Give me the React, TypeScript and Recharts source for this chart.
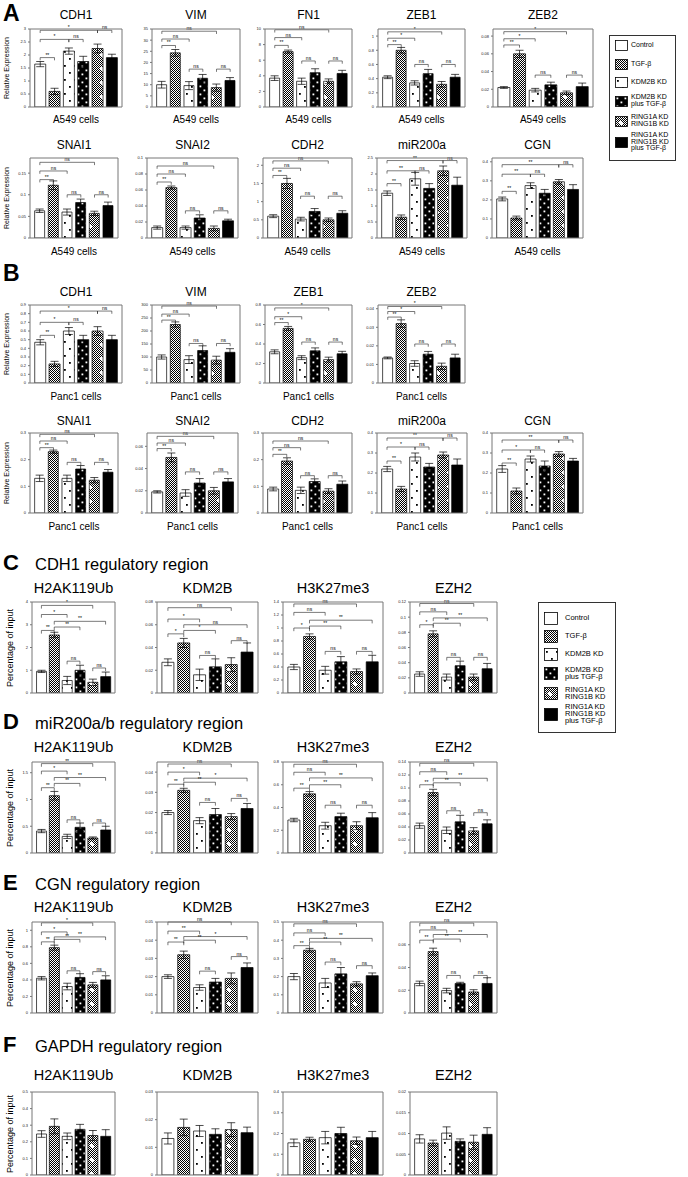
import React from "react";
import { BarChart, Bar, XAxis, YAxis, Cell, ErrorBar, ReferenceLine } from "recharts";

// groups in the order they are plotted
const groups = ["Control", "TGF-β", "KDM2B KD", "KDM2B KD plus TGF-β", "RING1A KD RING1B KD", "RING1A KD RING1B KD plus TGF-β"];
const legendLines = [["Control"], ["TGF-β"], ["KDM2B KD"], ["KDM2B KD", "plus TGF-β"], ["RING1A KD", "RING1B KD"], ["RING1A KD", "RING1B KD", "plus TGF-β"]];
const fills = ["#fff", "url(#pTgf)", "url(#pKd)", "url(#pKdTgf)", "url(#pRing)", "#000"];

type Br = [number, number, number, string]; // from bar, to bar, height, label

// ---- A: A549 cells ----
const a549Cdh1 = [1.65, 0.6, 2.15, 1.75, 2.25, 1.9];
const a549Cdh1Err = [0.1, 0.12, 0.12, 0.2, 0.17, 0.13];
const a549Cdh1Br: Br[] = [[0, 1, 1.9, "**"], [0, 2, 2.6, "*"], [2, 3, 2.6, "ns"], [0, 4, 2.95, "*"], [4, 5, 2.95, "ns"]];
const a549Vim = [10, 24.3, 9.6, 12.9, 8.7, 11.9];
const a549VimErr = [1.5, 1.5, 1.8, 1.7, 1.6, 1.3];
const a549VimBr: Br[] = [[0, 1, 27.6, "**"], [0, 2, 30.5, "ns"], [0, 4, 34, "ns"], [2, 3, 17, "ns"], [4, 5, 17, "ns"]];
const a549Fn1 = [3.7, 7.1, 3.3, 4.4, 3.3, 4.3];
const a549Fn1Err = [0.3, 0.2, 0.4, 0.5, 0.3, 0.4];
const a549Fn1Br: Br[] = [[0, 1, 7.9, "**"], [0, 2, 8.9, "ns"], [0, 4, 9.9, "ns"], [2, 3, 5.9, "ns"], [4, 5, 5.9, "ns"]];
const a549Zeb1 = [0.42, 0.8, 0.34, 0.47, 0.32, 0.42];
const a549Zeb1Err = [0.02, 0.04, 0.03, 0.06, 0.04, 0.04];
const a549Zeb1Br: Br[] = [[0, 1, 0.88, "**"], [0, 2, 0.97, "*"], [0, 4, 1.06, "*"], [2, 3, 0.6, "ns"], [4, 5, 0.6, "ns"]];
const a549Zeb2 = [0.022, 0.06, 0.019, 0.025, 0.016, 0.023];
const a549Zeb2Err = [0.001, 0.004, 0.002, 0.003, 0.002, 0.004];
const a549Zeb2Br: Br[] = [[0, 1, 0.07, "**"], [0, 2, 0.077, "*"], [0, 4, 0.085, "*"], [2, 3, 0.036, "ns"], [4, 5, 0.036, "ns"]];
const a549Snai1 = [0.063, 0.122, 0.06, 0.082, 0.057, 0.075];
const a549Snai1Err = [0.004, 0.01, 0.007, 0.008, 0.005, 0.008];
const a549Snai1Br: Br[] = [[0, 1, 0.135, "**"], [0, 2, 0.155, "ns"], [0, 4, 0.175, "ns"], [2, 3, 0.1, "ns"], [4, 5, 0.1, "ns"]];
const a549Snai2 = [0.013, 0.063, 0.013, 0.025, 0.012, 0.0215];
const a549Snai2Err = [0.002, 0.002, 0.002, 0.004, 0.003, 0.002];
const a549Snai2Br: Br[] = [[0, 1, 0.07, "**"], [0, 2, 0.08, "ns"], [0, 4, 0.09, "ns"], [2, 3, 0.034, "ns"], [4, 5, 0.034, "ns"]];
const a549Cdh2 = [0.6, 1.5, 0.52, 0.73, 0.5, 0.68];
const a549Cdh2Err = [0.04, 0.14, 0.05, 0.08, 0.05, 0.07];
const a549Cdh2Br: Br[] = [[0, 1, 1.72, "**"], [0, 2, 1.92, "ns"], [0, 4, 2.12, "ns"], [2, 3, 1.15, "ns"], [4, 5, 1.15, "ns"]];
const a549Mir = [1.4, 0.65, 1.85, 1.55, 2.1, 1.65];
const a549MirErr = [0.07, 0.07, 0.2, 0.15, 0.15, 0.25];
const a549MirBr: Br[] = [[0, 1, 1.7, "**"], [0, 2, 2.1, "**"], [2, 3, 2.1, "ns"], [0, 4, 2.42, "**"], [4, 5, 2.42, "ns"]];
const a549Cgn = [0.205, 0.105, 0.275, 0.235, 0.295, 0.255];
const a549CgnErr = [0.01, 0.01, 0.015, 0.02, 0.012, 0.025];
const a549CgnBr: Br[] = [[0, 1, 0.245, "**"], [0, 2, 0.335, "**"], [2, 3, 0.335, "ns"], [0, 4, 0.385, "**"], [4, 5, 0.385, "ns"]];

// ---- B: Panc1 cells ----
const panc1Cdh1 = [0.47, 0.22, 0.6, 0.5, 0.6, 0.5];
const panc1Cdh1Err = [0.03, 0.03, 0.04, 0.05, 0.05, 0.05];
const panc1Cdh1Br: Br[] = [[0, 1, 0.55, "**"], [0, 2, 0.7, "*"], [2, 3, 0.7, "ns"], [0, 4, 0.83, "*"], [4, 5, 0.83, "ns"]];
const panc1Vim = [100, 225, 90, 125, 88, 118];
const panc1VimErr = [8, 10, 15, 18, 15, 14];
const panc1VimBr: Br[] = [[0, 1, 242, "**"], [0, 2, 265, "ns"], [0, 4, 296, "ns"], [2, 3, 152, "ns"], [4, 5, 152, "ns"]];
const panc1Zeb1 = [0.32, 0.56, 0.26, 0.33, 0.24, 0.3];
const panc1Zeb1Err = [0.02, 0.02, 0.02, 0.03, 0.025, 0.025];
const panc1Zeb1Br: Br[] = [[0, 1, 0.62, "**"], [0, 2, 0.68, "*"], [0, 4, 0.77, "*"], [2, 3, 0.42, "ns"], [4, 5, 0.42, "ns"]];
const panc1Zeb2 = [0.0135, 0.032, 0.0105, 0.0155, 0.009, 0.0135];
const panc1Zeb2Err = [0.0005, 0.002, 0.0015, 0.0015, 0.0017, 0.002];
const panc1Zeb2Br: Br[] = [[0, 1, 0.0355, "**"], [0, 2, 0.0385, "*"], [0, 4, 0.0412, "*"], [2, 3, 0.021, "ns"], [4, 5, 0.021, "ns"]];
const panc1Snai1 = [0.13, 0.23, 0.13, 0.165, 0.123, 0.153];
const panc1Snai1Err = [0.012, 0.006, 0.012, 0.013, 0.01, 0.01];
const panc1Snai1Br: Br[] = [[0, 1, 0.245, "**"], [0, 2, 0.27, "ns"], [0, 4, 0.295, "ns"], [2, 3, 0.19, "ns"], [4, 5, 0.19, "ns"]];
const panc1Snai2 = [0.019, 0.05, 0.018, 0.027, 0.02, 0.028];
const panc1Snai2Err = [0.001, 0.004, 0.003, 0.004, 0.003, 0.003];
const panc1Snai2Br: Br[] = [[0, 1, 0.058, "**"], [0, 2, 0.063, "ns"], [0, 4, 0.069, "ns"], [2, 3, 0.037, "ns"], [4, 5, 0.037, "ns"]];
const panc1Cdh2 = [0.09, 0.195, 0.085, 0.118, 0.082, 0.108];
const panc1Cdh2Err = [0.007, 0.012, 0.012, 0.01, 0.009, 0.012];
const panc1Cdh2Br: Br[] = [[0, 1, 0.22, "**"], [0, 2, 0.245, "ns"], [0, 4, 0.27, "ns"], [2, 3, 0.14, "ns"], [4, 5, 0.14, "ns"]];
const panc1Mir = [0.22, 0.12, 0.28, 0.23, 0.29, 0.24];
const panc1MirErr = [0.013, 0.013, 0.02, 0.018, 0.015, 0.03];
const panc1MirBr: Br[] = [[0, 1, 0.26, "**"], [0, 2, 0.33, "*"], [2, 3, 0.33, "ns"], [0, 4, 0.375, "**"], [4, 5, 0.375, "ns"]];
const panc1Cgn = [0.22, 0.11, 0.27, 0.235, 0.295, 0.26];
const panc1CgnErr = [0.017, 0.015, 0.015, 0.025, 0.012, 0.013];
const panc1CgnBr: Br[] = [[0, 1, 0.25, "**"], [0, 2, 0.315, "*"], [2, 3, 0.315, "ns"], [0, 4, 0.365, "**"], [4, 5, 0.365, "ns"]];

// ---- C: CDH1 regulatory region ----
const cH2ak = [0.95, 2.55, 0.55, 1.0, 0.47, 0.72];
const cH2akErr = [0.05, 0.12, 0.18, 0.22, 0.14, 0.2];
const cH2akBr: Br[] = [[0, 1, 2.75, "**"], [1, 3, 2.9, "**"], [1, 5, 3.15, "**"], [0, 2, 3.45, "*"], [0, 4, 3.85, "*"], [2, 3, 1.4, "ns"], [4, 5, 1.1, "ns"]];
const cKdm = [0.027, 0.044, 0.016, 0.023, 0.025, 0.036];
const cKdmErr = [0.003, 0.004, 0.005, 0.007, 0.006, 0.008];
const cKdmBr: Br[] = [[0, 1, 0.052, "*"], [1, 3, 0.055, "*"], [1, 5, 0.06, "ns"], [0, 2, 0.065, "*"], [0, 4, 0.075, "ns"], [2, 3, 0.033, "ns"], [4, 5, 0.046, "ns"]];
const cH3 = [0.4, 0.87, 0.35, 0.48, 0.33, 0.48];
const cH3Err = [0.04, 0.04, 0.06, 0.08, 0.04, 0.1];
const cH3Br: Br[] = [[0, 1, 1.0, "*"], [1, 3, 1.03, "**"], [1, 5, 1.12, "**"], [0, 2, 1.24, "ns"], [0, 4, 1.37, "ns"], [2, 3, 0.64, "ns"], [4, 5, 0.64, "ns"]];
const cEzh = [0.025, 0.078, 0.021, 0.036, 0.021, 0.032];
const cEzhErr = [0.003, 0.004, 0.004, 0.006, 0.004, 0.007];
const cEzhBr: Br[] = [[0, 1, 0.09, "*"], [1, 3, 0.092, "**"], [1, 5, 0.099, "**"], [0, 2, 0.107, "ns"], [0, 4, 0.118, "ns"], [2, 3, 0.047, "ns"], [4, 5, 0.047, "ns"]];

// ---- D: miR200a/b regulatory region ----
const dH2ak = [0.41, 1.07, 0.31, 0.48, 0.28, 0.43];
const dH2akErr = [0.03, 0.08, 0.04, 0.08, 0.02, 0.07];
const dH2akBr: Br[] = [[0, 1, 1.22, "**"], [1, 3, 1.3, "**"], [1, 5, 1.41, "**"], [0, 2, 1.53, "*"], [0, 4, 1.67, "**"], [2, 3, 0.62, "ns"], [4, 5, 0.56, "ns"]];
const dKdm = [0.02, 0.031, 0.016, 0.019, 0.018, 0.022];
const dKdmErr = [0.001, 0.001, 0.0015, 0.003, 0.0015, 0.0025];
const dKdmBr: Br[] = [[0, 1, 0.034, "**"], [1, 3, 0.035, "**"], [1, 5, 0.037, "*"], [0, 2, 0.04, "*"], [0, 4, 0.044, "ns"], [2, 3, 0.025, "ns"], [4, 5, 0.027, "ns"]];
const dH3 = [0.29, 0.52, 0.24, 0.32, 0.24, 0.31];
const dH3Err = [0.015, 0.02, 0.03, 0.03, 0.035, 0.045];
const dH3Br: Br[] = [[0, 1, 0.57, "**"], [1, 3, 0.6, "**"], [1, 5, 0.66, "**"], [0, 2, 0.71, "ns"], [0, 4, 0.78, "ns"], [2, 3, 0.42, "ns"], [4, 5, 0.42, "ns"]];
const dEzh = [0.042, 0.093, 0.035, 0.048, 0.034, 0.045];
const dEzhErr = [0.004, 0.005, 0.005, 0.01, 0.005, 0.006];
const dEzhBr: Br[] = [[0, 1, 0.105, "**"], [1, 3, 0.108, "**"], [1, 5, 0.115, "**"], [0, 2, 0.125, "ns"], [0, 4, 0.138, "ns"], [2, 3, 0.065, "ns"], [4, 5, 0.062, "ns"]];

// ---- E: CGN regulatory region ----
const eH2ak = [0.42, 0.79, 0.32, 0.43, 0.34, 0.4];
const eH2akErr = [0.02, 0.03, 0.04, 0.045, 0.03, 0.05];
const eH2akBr: Br[] = [[0, 1, 0.86, "**"], [1, 3, 0.89, "**"], [1, 5, 0.92, "**"], [0, 2, 0.98, "*"], [0, 4, 1.09, "*"], [2, 3, 0.51, "ns"], [4, 5, 0.5, "ns"]];
const eKdm = [0.02, 0.032, 0.014, 0.017, 0.019, 0.025];
const eKdmErr = [0.001, 0.002, 0.0015, 0.002, 0.003, 0.0025];
const eKdmBr: Br[] = [[0, 1, 0.039, "**"], [1, 3, 0.04, "**"], [1, 5, 0.042, "*"], [0, 2, 0.045, "**"], [0, 4, 0.05, "ns"], [2, 3, 0.023, "ns"], [4, 5, 0.031, "ns"]];
const eH3 = [0.2, 0.345, 0.165, 0.215, 0.16, 0.205];
const eH3Err = [0.017, 0.01, 0.025, 0.035, 0.012, 0.015];
const eH3Br: Br[] = [[0, 1, 0.37, "**"], [1, 3, 0.39, "**"], [1, 5, 0.41, "**"], [0, 2, 0.44, "ns"], [0, 4, 0.49, "ns"], [2, 3, 0.28, "ns"], [4, 5, 0.26, "ns"]];
const eEzh = [0.026, 0.054, 0.0197, 0.026, 0.0185, 0.026];
const eEzhErr = [0.002, 0.003, 0.002, 0.001, 0.002, 0.005];
const eEzhBr: Br[] = [[0, 1, 0.064, "**"], [1, 3, 0.065, "**"], [1, 5, 0.069, "**"], [0, 2, 0.073, "ns"], [0, 4, 0.079, "ns"], [2, 3, 0.033, "ns"], [4, 5, 0.033, "ns"]];

// ---- F: GAPDH regulatory region ----
const fH2ak = [0.247, 0.293, 0.233, 0.275, 0.238, 0.233];
const fH2akErr = [0.02, 0.045, 0.02, 0.03, 0.03, 0.04];
const fKdm = [0.0132, 0.0172, 0.0159, 0.0147, 0.0164, 0.0153];
const fKdmErr = [0.002, 0.003, 0.002, 0.002, 0.0025, 0.002];
const fH3 = [0.155, 0.172, 0.18, 0.2, 0.165, 0.18];
const fH3Err = [0.018, 0.01, 0.03, 0.03, 0.018, 0.03];
const fEzh = [0.0087, 0.0077, 0.0101, 0.0081, 0.0079, 0.0098];
const fEzhErr = [0.001, 0.0007, 0.0015, 0.0006, 0.0017, 0.0016];

const chipTargets = ["H2AK119Ub", "KDM2B", "H3K27me3", "EZH2"];

type Spec = { title: string; v: number[]; e: number[]; max: number; ticks: number[]; br?: Br[] };

const rowA1: Spec[] = [
  { title: "CDH1", v: a549Cdh1, e: a549Cdh1Err, max: 3, ticks: [0, 0.5, 1, 1.5, 2, 2.5, 3], br: a549Cdh1Br },
  { title: "VIM", v: a549Vim, e: a549VimErr, max: 35, ticks: [0, 5, 10, 15, 20, 25, 30, 35], br: a549VimBr },
  { title: "FN1", v: a549Fn1, e: a549Fn1Err, max: 10, ticks: [0, 2, 4, 6, 8, 10], br: a549Fn1Br },
  { title: "ZEB1", v: a549Zeb1, e: a549Zeb1Err, max: 1.1, ticks: [0, 0.2, 0.4, 0.6, 0.8, 1], br: a549Zeb1Br },
  { title: "ZEB2", v: a549Zeb2, e: a549Zeb2Err, max: 0.088, ticks: [0, 0.02, 0.04, 0.06, 0.08], br: a549Zeb2Br },
];
const rowA2: Spec[] = [
  { title: "SNAI1", v: a549Snai1, e: a549Snai1Err, max: 0.185, ticks: [0, 0.05, 0.1, 0.15], br: a549Snai1Br },
  { title: "SNAI2", v: a549Snai2, e: a549Snai2Err, max: 0.1, ticks: [0, 0.02, 0.04, 0.06, 0.08, 0.1], br: a549Snai2Br },
  { title: "CDH2", v: a549Cdh2, e: a549Cdh2Err, max: 2.2, ticks: [0, 0.5, 1, 1.5, 2], br: a549Cdh2Br },
  { title: "miR200a", v: a549Mir, e: a549MirErr, max: 2.5, ticks: [0, 0.5, 1, 1.5, 2, 2.5], br: a549MirBr },
  { title: "CGN", v: a549Cgn, e: a549CgnErr, max: 0.42, ticks: [0, 0.1, 0.2, 0.3, 0.4], br: a549CgnBr },
];
const rowB1: Spec[] = [
  { title: "CDH1", v: panc1Cdh1, e: panc1Cdh1Err, max: 0.9, ticks: [0, 0.1, 0.2, 0.3, 0.4, 0.5, 0.6, 0.7, 0.8, 0.9], br: panc1Cdh1Br },
  { title: "VIM", v: panc1Vim, e: panc1VimErr, max: 300, ticks: [0, 50, 100, 150, 200, 250, 300], br: panc1VimBr },
  { title: "ZEB1", v: panc1Zeb1, e: panc1Zeb1Err, max: 0.8, ticks: [0, 0.2, 0.4, 0.6, 0.8], br: panc1Zeb1Br },
  { title: "ZEB2", v: panc1Zeb2, e: panc1Zeb2Err, max: 0.042, ticks: [0, 0.01, 0.02, 0.03, 0.04], br: panc1Zeb2Br },
];
const rowB2: Spec[] = [
  { title: "SNAI1", v: panc1Snai1, e: panc1Snai1Err, max: 0.3, ticks: [0, 0.1, 0.2, 0.3], br: panc1Snai1Br },
  { title: "SNAI2", v: panc1Snai2, e: panc1Snai2Err, max: 0.072, ticks: [0, 0.02, 0.04, 0.06], br: panc1Snai2Br },
  { title: "CDH2", v: panc1Cdh2, e: panc1Cdh2Err, max: 0.3, ticks: [0, 0.1, 0.2, 0.3], br: panc1Cdh2Br },
  { title: "miR200a", v: panc1Mir, e: panc1MirErr, max: 0.4, ticks: [0, 0.1, 0.2, 0.3, 0.4], br: panc1MirBr },
  { title: "CGN", v: panc1Cgn, e: panc1CgnErr, max: 0.4, ticks: [0, 0.1, 0.2, 0.3, 0.4], br: panc1CgnBr },
];
const rowC: Spec[] = [
  { title: chipTargets[0], v: cH2ak, e: cH2akErr, max: 4, ticks: [0, 1, 2, 3, 4], br: cH2akBr },
  { title: chipTargets[1], v: cKdm, e: cKdmErr, max: 0.08, ticks: [0, 0.02, 0.04, 0.06, 0.08], br: cKdmBr },
  { title: chipTargets[2], v: cH3, e: cH3Err, max: 1.4, ticks: [0, 0.2, 0.4, 0.6, 0.8, 1, 1.2, 1.4], br: cH3Br },
  { title: chipTargets[3], v: cEzh, e: cEzhErr, max: 0.12, ticks: [0, 0.02, 0.04, 0.06, 0.08, 0.1, 0.12], br: cEzhBr },
];
const rowD: Spec[] = [
  { title: chipTargets[0], v: dH2ak, e: dH2akErr, max: 1.7, ticks: [0, 0.5, 1, 1.5], br: dH2akBr },
  { title: chipTargets[1], v: dKdm, e: dKdmErr, max: 0.045, ticks: [0, 0.01, 0.02, 0.03, 0.04], br: dKdmBr },
  { title: chipTargets[2], v: dH3, e: dH3Err, max: 0.8, ticks: [0, 0.2, 0.4, 0.6, 0.8], br: dH3Br },
  { title: chipTargets[3], v: dEzh, e: dEzhErr, max: 0.14, ticks: [0, 0.02, 0.04, 0.06, 0.08, 0.1, 0.12, 0.14], br: dEzhBr },
];
const rowE: Spec[] = [
  { title: chipTargets[0], v: eH2ak, e: eH2akErr, max: 1.1, ticks: [0, 0.2, 0.4, 0.6, 0.8, 1], br: eH2akBr },
  { title: chipTargets[1], v: eKdm, e: eKdmErr, max: 0.05, ticks: [0, 0.01, 0.02, 0.03, 0.04, 0.05], br: eKdmBr },
  { title: chipTargets[2], v: eH3, e: eH3Err, max: 0.5, ticks: [0, 0.1, 0.2, 0.3, 0.4, 0.5], br: eH3Br },
  { title: chipTargets[3], v: eEzh, e: eEzhErr, max: 0.08, ticks: [0, 0.02, 0.04, 0.06], br: eEzhBr },
];
const rowF: Spec[] = [
  { title: chipTargets[0], v: fH2ak, e: fH2akErr, max: 0.5, ticks: [0, 0.1, 0.2, 0.3, 0.4, 0.5] },
  { title: chipTargets[1], v: fKdm, e: fKdmErr, max: 0.03, ticks: [0, 0.01, 0.02, 0.03] },
  { title: chipTargets[2], v: fH3, e: fH3Err, max: 0.4, ticks: [0, 0.1, 0.2, 0.3, 0.4] },
  { title: chipTargets[3], v: fEzh, e: fEzhErr, max: 0.02, ticks: [0, 0.005, 0.01, 0.015, 0.02] },
];

// layout (pixel boxes of the plot areas)
const colsA1 = [[30, 122], [152, 240], [265, 352], [378, 465], [493, 593]];
const colsA2 = [[30, 118], [147, 238], [263, 352], [377, 467], [492, 583]];
const colsChip = [[32, 115], [157, 258], [283, 383], [410, 497]];

const FONT = "'Liberation Sans', Arial, Helvetica, sans-serif";

function Txt({ x, y, size, children, bold = false, anchor = "middle", rotate = false }: any) {
  const tx = anchor === "middle" ? "-50%" : "0";
  return (
    <div
      style={{
        position: "absolute",
        left: x,
        top: y,
        transform: `translate(${tx},-50%)${rotate ? " rotate(-90deg)" : ""}`,
        fontSize: size,
        fontWeight: bold ? 700 : 400,
        whiteSpace: "nowrap",
        lineHeight: 1,
        color: "#000",
      }}
    >
      {children}
    </div>
  );
}

// significance mark drawn above a bracket
function BrLabel({ viewBox, text }: any) {
  if (!viewBox) return null;
  const { x, y, width } = viewBox;
  return (
    <text x={x + width / 2} y={y - 1} textAnchor="middle" fontSize={5} fill="#000">
      {text}
    </text>
  );
}

function SubChart({ spec, x0, x1, y0, y1 }: { spec: Spec; x0: number; x1: number; y0: number; y1: number }) {
  const data = groups.map((g, i) => ({ g, v: spec.v[i], e: spec.e[i] }));
  const YW = 18;
  const MT = 8;
  const width = YW + (x1 - x0) + 3;
  const height = MT + 1 + (y1 - y0) + 1;
  const d = spec.max * 0.035;
  const lines: any[] = [];
  (spec.br || []).forEach(([i, j, y, lab], k) => {
    lines.push(
      <ReferenceLine
        key={`h${k}`}
        segment={[{ x: groups[i], y }, { x: groups[j], y }]}
        stroke="#222"
        strokeWidth={0.6}
        ifOverflow="visible"
        label={<BrLabel text={lab} />}
      />
    );
    lines.push(
      <ReferenceLine key={`a${k}`} segment={[{ x: groups[i], y }, { x: groups[i], y: y - d }]} stroke="#222" strokeWidth={0.6} ifOverflow="visible" />
    );
    lines.push(
      <ReferenceLine key={`b${k}`} segment={[{ x: groups[j], y }, { x: groups[j], y: y - d }]} stroke="#222" strokeWidth={0.6} ifOverflow="visible" />
    );
  });
  return (
    <div style={{ position: "absolute", left: x0 - YW, top: y0 - MT - 1 }}>
      <BarChart width={width} height={height} data={data} margin={{ top: MT, right: 2, bottom: 0, left: 0 }} barCategoryGap="12%">
        <XAxis dataKey="g" height={1} tick={false} tickLine={false} axisLine={{ stroke: "#777" }} padding={{ left: 3, right: 3 }} />
        <XAxis xAxisId="top" orientation="top" dataKey="g" height={1} tick={false} tickLine={false} axisLine={{ stroke: "#777" }} />
        <YAxis
          width={YW}
          domain={[0, spec.max]}
          ticks={spec.ticks}
          interval={0}
          allowDataOverflow
          tick={{ fontSize: 4, fill: "#222" }}
          tickSize={2}
          tickLine={{ stroke: "#777" }}
          axisLine={{ stroke: "#777" }}
        />
        <YAxis yAxisId="r" orientation="right" width={1} tick={false} tickLine={false} axisLine={{ stroke: "#777" }} />
        <Bar dataKey="v" isAnimationActive={false} stroke="#000" strokeWidth={0.7}>
          {data.map((_, i) => (
            <Cell key={i} fill={fills[i]} />
          ))}
          <ErrorBar dataKey="e" width={4} stroke="#000" strokeWidth={0.7} direction="y" isAnimationActive={false} />
        </Bar>
        {lines}
      </BarChart>
    </div>
  );
}

function Row({ specs, cols, y0, y1, titleY, caption, captionY, yLabel, titleSize }: any) {
  return (
    <>
      {specs.map((s: Spec, i: number) => {
        const [x0, x1] = cols[i];
        const cx = (x0 + x1) / 2;
        return (
          <React.Fragment key={s.title + i}>
            <Txt x={cx} y={titleY} size={titleSize}>{s.title}</Txt>
            <SubChart spec={s} x0={x0} x1={x1} y0={y0} y1={y1} />
            {caption && <Txt x={cx} y={captionY} size={10}>{caption}</Txt>}
          </React.Fragment>
        );
      })}
      <Txt x={yLabel.x} y={(y0 + y1) / 2} size={yLabel.size} rotate>{yLabel.text}</Txt>
    </>
  );
}

function Swatch({ fill, w, h }: { fill: string; w: number; h: number }) {
  return (
    <svg width={w + 1} height={h + 1} style={{ display: "block" }}>
      <rect x={0.5} y={0.5} width={w} height={h} fill={fill} stroke="#000" strokeWidth={0.8} />
    </svg>
  );
}

function Legend({ x, y, w, h, rows, sw, sh, textX, size }: any) {
  return (
    <div style={{ position: "absolute", left: x, top: y, width: w, height: h, border: "1px solid #333", boxSizing: "border-box" }}>
      {legendLines.map((lines, i) => (
        <React.Fragment key={i}>
          <div style={{ position: "absolute", left: 5, top: rows[i] - sh / 2 }}>
            <Swatch fill={fills[i]} w={sw} h={sh} />
          </div>
          <div
            style={{
              position: "absolute",
              left: textX,
              top: rows[i],
              transform: "translateY(-50%)",
              fontSize: size,
              lineHeight: 0.95,
              whiteSpace: "nowrap",
            }}
          >
            {lines.map((l, k) => (
              <div key={k}>{l}</div>
            ))}
          </div>
        </React.Fragment>
      ))}
    </div>
  );
}

function Patterns() {
  return (
    <svg width={0} height={0} style={{ position: "absolute", left: 0, top: 0 }}>
      <defs>
        <pattern id="pTgf" width={2} height={2} patternUnits="userSpaceOnUse">
          <rect width={2} height={2} fill="#fff" />
          <rect width={1} height={1} fill="#000" />
          <rect x={1} y={1} width={1} height={1} fill="#000" />
        </pattern>
        <pattern id="pKd" width={10} height={14} patternUnits="userSpaceOnUse">
          <rect width={10} height={14} fill="#fff" />
          <rect x={2} y={3} width={1.8} height={1.8} fill="#000" />
          <rect x={7} y={10} width={1.8} height={1.8} fill="#000" />
        </pattern>
        <pattern id="pKdTgf" width={8} height={8} patternUnits="userSpaceOnUse">
          <rect width={8} height={8} fill="#000" />
          <rect x={1.5} y={1.5} width={1.8} height={1.8} fill="#fff" />
          <rect x={5.5} y={5.5} width={1.8} height={1.8} fill="#fff" />
        </pattern>
        <pattern id="pRing" width={12} height={14} patternUnits="userSpaceOnUse">
          <rect width={12} height={14} fill="url(#pTgf)" />
          <rect x={5} y={5} width={2} height={4} fill="#fff" />
          <rect x={4} y={6} width={4} height={2} fill="#fff" />
        </pattern>
      </defs>
    </svg>
  );
}

export default function App() {
  const relLabel = { x: 6, size: 7, text: "Relative Expression" };
  const pctLabel = { x: 10, size: 9, text: "Percentage of input" };
  return (
    <div style={{ position: "absolute", left: 0, top: 0, width: 688, height: 1177, background: "#fff", fontFamily: FONT, overflow: "hidden" }}>
      <Patterns />
      <Txt x={3} y={13} size={23} bold anchor="left">A</Txt>
      <Row specs={rowA1} cols={colsA1} y0={29} y1={107} titleY={15} caption="A549 cells" captionY={120} yLabel={relLabel} titleSize={12} />
      <Row specs={rowA2} cols={colsA2} y0={158} y1={238} titleY={145} caption="A549 cells" captionY={252} yLabel={relLabel} titleSize={12} />
      <Legend x={609} y={35} w={67} h={126} rows={[9, 28, 46, 65, 85, 106]} sw={12} sh={10} textX={21} size={7} />

      <Txt x={3} y={273} size={23} bold anchor="left">B</Txt>
      <Row specs={rowB1} cols={colsA1} y0={305} y1={383} titleY={292} caption="Panc1 cells" captionY={397} yLabel={relLabel} titleSize={12} />
      <Row specs={rowB2} cols={colsA2} y0={433} y1={513} titleY={421} caption="Panc1 cells" captionY={527} yLabel={relLabel} titleSize={12} />

      <Txt x={3} y={563} size={22} bold anchor="left">C</Txt>
      <Txt x={35} y={564} size={16.5} anchor="left">CDH1 regulatory region</Txt>
      <Row specs={rowC} cols={colsChip} y0={602} y1={693} titleY={588} yLabel={pctLabel} titleSize={14.5} />
      <Legend x={538} y={602} w={78} h={131} rows={[15, 33, 51, 70, 90, 111]} sw={13} sh={12} textX={26} size={7.5} />

      <Txt x={3} y={722} size={22} bold anchor="left">D</Txt>
      <Txt x={35} y={723} size={16.5} anchor="left">miR200a/b regulatory region</Txt>
      <Row specs={rowD} cols={colsChip} y0={762} y1={853} titleY={747} yLabel={pctLabel} titleSize={14.5} />

      <Txt x={3} y={883} size={22} bold anchor="left">E</Txt>
      <Txt x={35} y={884} size={16.5} anchor="left">CGN regulatory region</Txt>
      <Row specs={rowE} cols={colsChip} y0={922} y1={1013} titleY={907} yLabel={pctLabel} titleSize={14.5} />

      <Txt x={3} y={1045} size={22} bold anchor="left">F</Txt>
      <Txt x={35} y={1046} size={16.5} anchor="left">GAPDH regulatory region</Txt>
      <Row specs={rowF} cols={colsChip} y0={1092} y1={1175} titleY={1075} yLabel={pctLabel} titleSize={14.5} />
    </div>
  );
}
